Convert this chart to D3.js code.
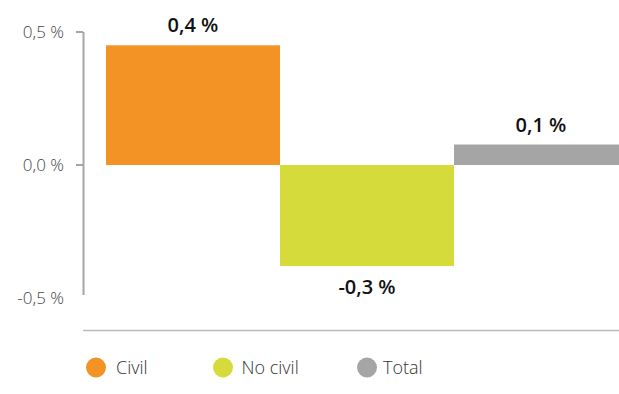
<!DOCTYPE html>
<html>
<head>
<meta charset="utf-8">
<script src="https://cdn.jsdelivr.net/npm/d3@7"></script>
<style>
  html, body { margin: 0; padding: 0; background: #fff; }
  svg { display: block; font-family: "Open Sans", "Noto Sans", sans-serif; }
</style>
</head>
<body>
<svg id="chart" width="619" height="394"></svg>
<script>
// Variation by sector (%)
const categories = ["Civil", "No civil", "Total"];
const values = [0.45, -0.38, 0.077];
const valueLabels = ["0,4 %", "-0,3 %", "0,1 %"];
const colors = ["#f39325", "#d5db3b", "#a5a5a5"];
const yTicks = [0.5, 0.0, -0.5];
const yTickLabels = ["0,5 %", "0,0 %", "-0,5 %"];

const svg = d3.select("#chart");
const W = 619, H = 394;

const y = d3.scaleLinear().domain([-0.5, 0.5]).range([298, 32]);
const x = d3.scaleBand().domain(categories).range([106, 628]).padding(0);

// Bars
svg.append("g").selectAll("rect")
  .data(categories)
  .join("rect")
  .attr("x", d => x(d))
  .attr("width", x.bandwidth())
  .attr("y", (d, i) => y(Math.max(0, values[i])))
  .attr("height", (d, i) => Math.abs(y(values[i]) - y(0)))
  .attr("fill", (d, i) => colors[i]);

// Y axis line and ticks
const axisColor = "#a6a6a6";
svg.append("line")
  .attr("x1", 83.5).attr("x2", 83.5)
  .attr("y1", y(0.5)).attr("y2", 295)
  .attr("stroke", axisColor).attr("stroke-width", 2);

svg.append("g").selectAll("line")
  .data(yTicks.filter(t => t > -0.5))
  .join("line")
  .attr("x1", 76).attr("x2", 83)
  .attr("y1", d => y(d)).attr("y2", d => y(d))
  .attr("stroke", axisColor).attr("stroke-width", 2);

svg.append("g").selectAll("text")
  .data(yTicks)
  .join("text")
  .attr("x", 64)
  .attr("y", d => y(d))
  .attr("dy", "0.36em")
  .attr("text-anchor", "end")
  .attr("font-size", 17)
  .attr("font-weight", 300)
  .attr("fill", "#444")
  .text((d, i) => yTickLabels[i]);

// Value labels
svg.append("g").selectAll("text")
  .data(categories)
  .join("text")
  .attr("x", d => x(d) + x.bandwidth() / 2)
  .attr("y", (d, i) => values[i] >= 0 ? y(values[i]) - 13 : y(values[i]) + 28)
  .attr("text-anchor", "middle")
  .attr("font-size", 20)
  .attr("font-weight", 600)
  .attr("fill", "#111")
  .text((d, i) => valueLabels[i]);

// Baseline under the plot
svg.append("line")
  .attr("x1", 83).attr("x2", W)
  .attr("y1", 330.5).attr("y2", 330.5)
  .attr("stroke", "#bbb").attr("stroke-width", 1.5);

// Legend
const legendX = [96, 223, 367];
const lg = svg.append("g").selectAll("g")
  .data(categories)
  .join("g")
  .attr("transform", (d, i) => `translate(${legendX[i]},367.5)`);
lg.append("circle").attr("r", 10).attr("fill", (d, i) => colors[i]);
lg.append("text")
  .attr("x", (d, i) => i === 0 ? 20 : (i === 1 ? 18.5 : 16))
  .attr("dy", "0.36em")
  .attr("font-size", 18)
  .attr("font-weight", 300)
  .attr("fill", "#333")
  .text(d => d);
</script>
</body>
</html>
